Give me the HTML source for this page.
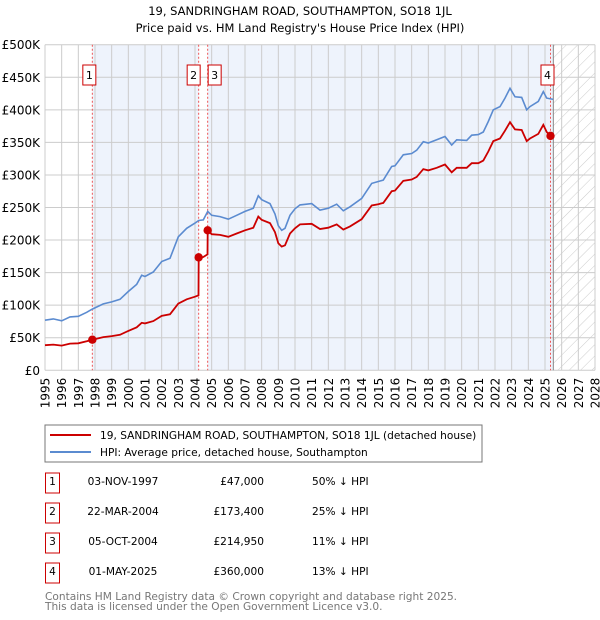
<!DOCTYPE html>
<html><head><meta charset="utf-8"><style>
body{margin:0;background:#fff;font-family:"DejaVu Sans","Liberation Sans",sans-serif;}
#wrap{position:relative;width:600px;height:620px;overflow:hidden;}
text{font-family:"DejaVu Sans","Liberation Sans",sans-serif;}
</style></head><body><div id="wrap">
<svg id="chart" width="600" height="620" xmlns="http://www.w3.org/2000/svg">
<defs><pattern id="hatch" width="8" height="8" patternUnits="userSpaceOnUse" patternTransform="rotate(45)"><rect width="8" height="8" fill="#fff"/><line x1="0" y1="0" x2="0" y2="8" stroke="#ccc" stroke-width="1"/></pattern></defs>
<text x="300" y="15" text-anchor="middle" font-size="11.5" fill="#000">19, SANDRINGHAM ROAD, SOUTHAMPTON, SO18 1JL</text>
<text x="300" y="32" text-anchor="middle" font-size="11.5" fill="#000">Price paid vs. HM Land Registry's House Price Index (HPI)</text>
<g id="bg"></g><g id="grid"></g><g id="marks"></g><g id="axes"></g>
<rect x="45" y="425" width="437" height="37" fill="#fff" stroke="#777"/>
<line x1="50" y1="435" x2="91" y2="435" stroke="#cc0000" stroke-width="2"/>
<text x="100" y="439" font-size="10.6">19, SANDRINGHAM ROAD, SOUTHAMPTON, SO18 1JL (detached house)</text>
<line x1="50" y1="452" x2="91" y2="452" stroke="#5b8bd0" stroke-width="2"/>
<text x="100" y="456" font-size="10.6">HPI: Average price, detached house, Southampton</text>
<g id="table" font-size="10.6"></g>
<text x="45" y="600" font-size="10.6" fill="#777">Contains HM Land Registry data © Crown copyright and database right 2025.</text>
<text x="45" y="610" font-size="10.6" fill="#777">This data is licensed under the Open Government Licence v3.0.</text>
</svg></div>
<script>
const hpiYears=[1995,1995.5,1996,1996.5,1997,1997.5,1997.84,1998.5,1999,1999.5,2000,2000.5,2000.8,2001,2001.5,2002,2002.5,2003,2003.5,2004,2004.22,2004.5,2004.76,2005,2005.5,2006,2006.5,2007,2007.5,2007.8,2008,2008.5,2008.8,2009,2009.2,2009.4,2009.7,2010,2010.3,2011,2011.5,2012,2012.5,2012.9,2013.3,2014,2014.6,2015,2015.3,2015.8,2016,2016.5,2017,2017.3,2017.7,2018,2018.5,2019,2019.4,2019.7,2020.3,2020.6,2021,2021.3,2021.6,2021.9,2022.3,2022.6,2022.9,2023.2,2023.6,2023.9,2024.1,2024.6,2024.9,2025.1,2025.5];
const hpiValues=[77,79,76,82,83,89,94,102,105,109,121,132,146,144,151,167,172,205,218,226,230,231,244,238,236,232,238,244,249,268,262,256,240,222,215,218,238,248,254,256,246,249,255,245,251,264,287,290,292,313,314,331,333,338,351,349,354,359,346,354,353,361,362,366,382,400,405,418,433,420,419,400,405,413,428,418,416];
const priceYears=[1995,1995.5,1996,1996.5,1997,1997.5,1997.84,1998.5,1999,1999.5,2000,2000.5,2000.8,2001,2001.5,2002,2002.5,2003,2003.5,2004,2004.21,2004.22,2004.5,2004.75,2004.76,2005,2005.5,2006,2006.5,2007,2007.5,2007.8,2008,2008.5,2008.8,2009,2009.2,2009.4,2009.7,2010,2010.3,2011,2011.5,2012,2012.5,2012.9,2013.3,2014,2014.6,2015,2015.3,2015.8,2016,2016.5,2017,2017.3,2017.7,2018,2018.5,2019,2019.4,2019.7,2020.3,2020.6,2021,2021.3,2021.6,2021.9,2022.3,2022.6,2022.9,2023.2,2023.6,2023.9,2024.1,2024.6,2024.9,2025.1,2025.33];
const priceValues=[38.5,39.5,38,41,41.5,44.5,47,51,52.5,54.5,60.5,66,73,72,75.5,83.5,86,102.5,109,113,115,173.4,174,178,214.95,209,208,205,210,215,219,236,231,226,212,195,190,192,210,218,224,225,217,219,224,216,221,232,253,255,257,275,276,291,293,297,309,307,311,316,304,311,311,318,318,322,336,352,356,368,381,370,369,352,356,363,377,366,360];
const saleLabels=["1","2","3","4"];
const saleYears=[1997.84,2004.22,2004.76,2025.33];
const saleValues=[47,173.4,214.95,360];
const saleDates=["03-NOV-1997","22-MAR-2004","05-OCT-2004","01-MAY-2025"];
const salePrices=["£47,000","£173,400","£214,950","£360,000"];
const saleDiffs=["50% ↓ HPI","25% ↓ HPI","11% ↓ HPI","13% ↓ HPI"];
const yTicks=[0,50,100,150,200,250,300,350,400,450,500];
const yTickLabels=["£0","£50K","£100K","£150K","£200K","£250K","£300K","£350K","£400K","£450K","£500K"];
const xTicks=[1995,1996,1997,1998,1999,2000,2001,2002,2003,2004,2005,2006,2007,2008,2009,2010,2011,2012,2013,2014,2015,2016,2017,2018,2019,2020,2021,2022,2023,2024,2025,2026,2027,2028];
const nowYear=2025.5;

const X0=45,X1=595,Y0=370.3,Y1=44.7;
const xs=y=>X0+(y-1995)/(2028-1995)*(X1-X0);
const ys=v=>Y0-v/500*(Y0-Y1);
const NS="http://www.w3.org/2000/svg";
function mk(parent,tag,attrs){const e=document.createElementNS(NS,tag);for(const k in attrs)e.setAttribute(k,attrs[k]);document.getElementById(parent).appendChild(e);return e;}

let e;
e=mk('bg','rect',{x:X0,y:Y1,width:X1-X0,height:Y0-Y1,fill:'#fff'});


e=mk('bg','rect',{x:xs(saleYears[0]),y:Y1,width:xs(saleYears[1])-xs(saleYears[0]),height:Y0-Y1,fill:'#eef3fc'});


e=mk('bg','rect',{x:xs(saleYears[2]),y:Y1,width:xs(nowYear)-xs(saleYears[2]),height:Y0-Y1,fill:'#eef3fc'});


e=mk('bg','rect',{x:xs(nowYear),y:Y1,width:X1-xs(nowYear),height:Y0-Y1,fill:'url(#hatch)'});



yTicks.forEach((t,i)=>{
 e=mk('grid','line',{x1:X0,x2:X1,y1:ys(t),y2:ys(t),stroke:'#cccccc','stroke-width':1});
 
 
 e=mk('axes','text',{x:40,y:ys(t)+4.5,'text-anchor':'end','font-size':12,fill:'#000'});
 e.textContent=yTickLabels[i];
 
 
});
xTicks.forEach(t=>{
 e=mk('grid','line',{x1:xs(t),x2:xs(t),y1:Y1,y2:Y0,stroke:'#cccccc','stroke-width':1});
 
 
 e=mk('axes','text',{x:0,y:0,transform:`translate(${xs(t)+4.5},${Y0+38}) rotate(-90)`,'font-size':12,fill:'#000'});
 e.textContent=t;
 
 
});
e=mk('grid','line',{x1:xs(nowYear),x2:xs(nowYear),y1:Y1,y2:Y0,stroke:'#888','stroke-width':1});



saleYears.forEach((s,i)=>{
 e=mk('marks','line',{x1:xs(s),x2:xs(s),y1:Y1,y2:Y0,stroke:'#ee5555','stroke-width':1,'stroke-dasharray':'2,2'});
 
 
});

const line=(xa,va)=>xa.map((y,i)=>(i?'L':'M')+xs(y).toFixed(1)+','+ys(va[i]).toFixed(1)).join('');
e=mk('marks','path',{d:line(hpiYears,hpiValues),fill:'none',stroke:'#5b8bd0','stroke-width':1.6});


e=mk('marks','path',{d:line(priceYears,priceValues),fill:'none',stroke:'#cc0000','stroke-width':1.8});



const boxOff=[-3,-5,7,-3];
saleYears.forEach((s,i)=>{
 e=mk('marks','circle',{cx:xs(s),cy:ys(saleValues[i]),r:4.2,fill:'#cc0000'});
 
 
 const cx=xs(s)+boxOff[i];
 e=mk('marks','rect',{x:cx-6.5,y:65,width:13,height:20,fill:'#fff',stroke:'#cc0000'});
 
 
 e=mk('marks','text',{x:cx,y:79,'text-anchor':'middle','font-size':11});
 e.textContent=saleLabels[i];
 
 
});

saleLabels.forEach((l,i)=>{
 const cy=483+i*30;
 e=mk('table','rect',{x:45.5,y:cy-10,width:14,height:20,fill:'#fff',stroke:'#cc0000'});
 
 
 e=mk('table','text',{x:52.5,y:cy+2,'text-anchor':'middle'});e.textContent=l;
 
 
 e=mk('table','text',{x:123,y:cy+2,'text-anchor':'middle'});e.textContent=saleDates[i];
 
 
 e=mk('table','text',{x:264,y:cy+2,'text-anchor':'end'});e.textContent=salePrices[i];
 
 
 e=mk('table','text',{x:312,y:cy+2});e.textContent=saleDiffs[i];
 
 
});
</script></body></html>
